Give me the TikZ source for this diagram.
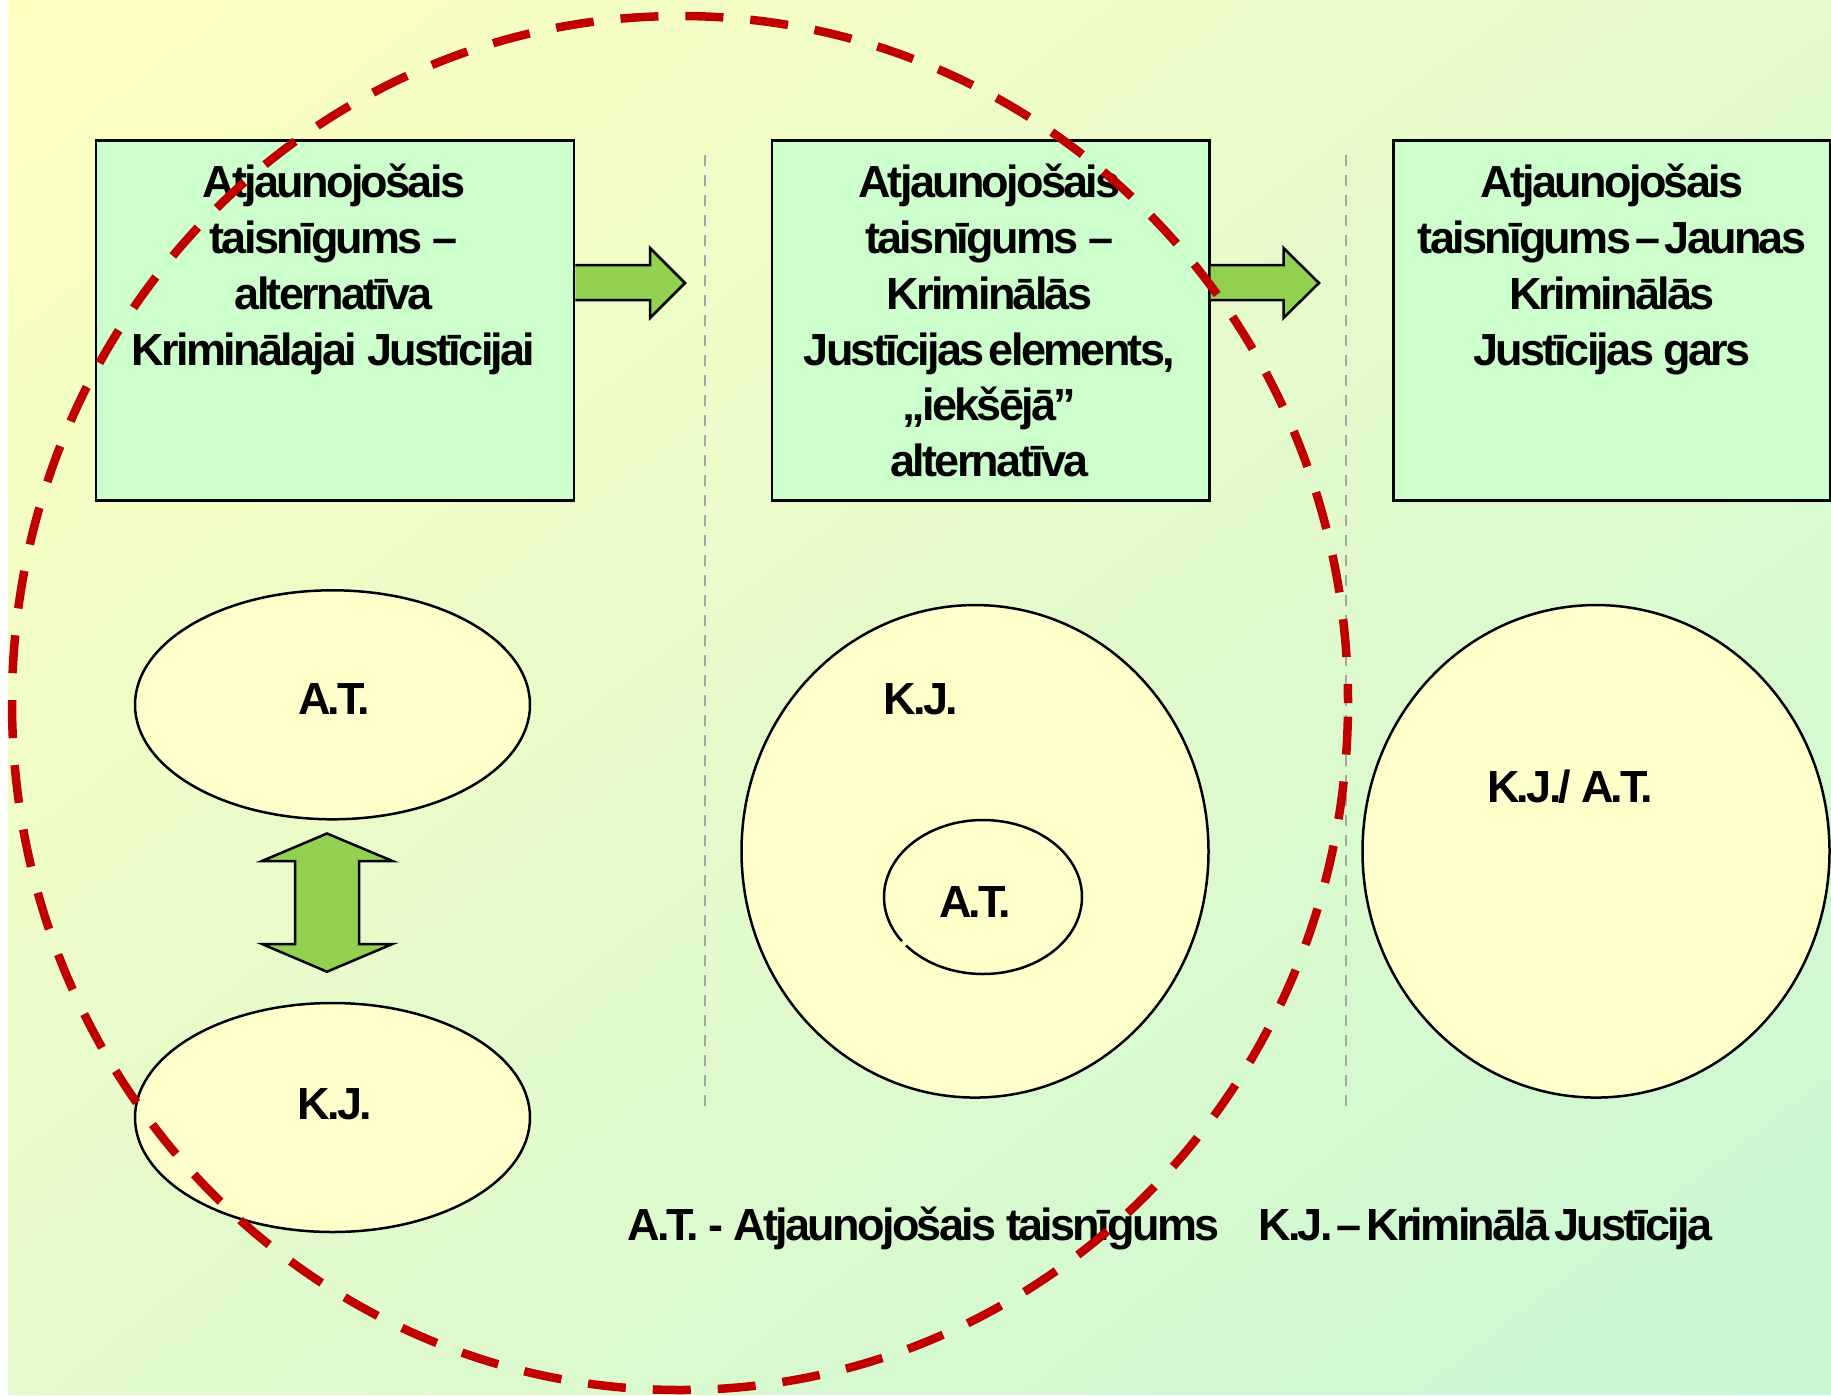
\documentclass[tikz,border=0pt]{standalone}
\usepackage{fontspec}
\setmainfont{Liberation Sans}[LetterSpace=-6.0]
\usetikzlibrary{shapes.geometric,shadings,calc}
\definecolor{boxg}{HTML}{CCFFCC}
\definecolor{ell}{HTML}{FFFFCC}
\definecolor{arrg}{HTML}{92D050}
\definecolor{redd}{HTML}{C00000}
\definecolor{bgA}{HTML}{FFFFC0}
\definecolor{bgB}{HTML}{C8F7D6}
\definecolor{bgM}{HTML}{E4FBCB}
\definecolor{gry}{HTML}{A6A6A6}
\newcommand{\tightsp}{\spaceskip=\dimexpr\fontdimen2\font-5.5pt\relax}
\begin{document}
\begin{tikzpicture}[x=1pt,y=1pt,
  lbl/.style={font=\fontsize{45}{55.8}\selectfont\bfseries, inner sep=0pt},
  boxtxt/.style={lbl, align=center, anchor=north},
  panel/.style={draw=black, line width=2.5pt, fill=boxg, inner sep=0pt, anchor=north west},
  oval/.style={ellipse, draw=black, line width=2.5pt, fill=ell, inner sep=0pt},
  blockarrow/.style={draw=black, line width=2.5pt, fill=arrg, line join=miter},
  sep/.style={draw=gry, line width=2.5pt, dash pattern=on 11pt off 9pt},
  ring/.style={draw=redd, line width=8.5pt, dash pattern=on 38pt off 27pt, dash phase=19pt}
]
\useasboundingbox (0,0) rectangle (1831,-1395);
% background
\shade[upper left=bgA, upper right=bgM, lower left=bgM, lower right=bgB] (8,0) rectangle (1831,-1394);

% separators
\coordinate (s1a) at (705,-155); \coordinate (s1b) at (705,-1112);
\coordinate (s2a) at (1346,-155); \coordinate (s2b) at (1346,-1112);
\draw[sep] (s1a) -- (s1b);
\draw[sep] (s2a) -- (s2b);

% boxes
\node[panel, minimum width=478.2pt, minimum height=360pt] (b1) at (94.6,-139.3) {};
\node[panel, minimum width=437.3pt, minimum height=360pt] (b2) at (770.7,-139.3) {};
\node[panel, minimum width=437.3pt, minimum height=360pt] (b3) at (1392,-139.3) {};

\node[boxtxt] (t1) at (333.7,-157.5) {\rule{0pt}{40pt}Atjaunojošais\\taisnīgums –\\alternatīva\\Kriminālajai Justīcijai};
\node[boxtxt] (t2) at (989.4,-157.5) {\rule{0pt}{40pt}Atjaunojošais\\taisnīgums –\\Kriminālās\\{\tightsp Justīcijas elements,}\\„iekšējā”\\alternatīva};
\node[boxtxt] (t3) at (1612,-157.5) {\rule{0pt}{40pt}Atjaunojošais\\{\tightsp taisnīgums – Jaunas}\\Kriminālās\\Justīcijas gars};

% arrows between boxes
\draw[blockarrow] (b1.east |- 0,-300) -- (650,-300) -- (650,-318) -- (685,-283) -- (650,-248) -- (650,-265) -- (b1.east |- 0,-265);
\draw[blockarrow] (b2.east |- 0,-300) -- (1283.5,-300) -- (1283.5,-318) -- (1319,-283) -- (1283.5,-248) -- (1283.5,-265) -- (b2.east |- 0,-265);

% first column ovals
\node[oval, minimum width=395pt, minimum height=229pt] (e1) at (332.5,-704.8) {};
\node[oval, minimum width=395pt, minimum height=229pt] (e2) at (332.5,-1117.5) {};
\node[lbl, anchor=base] (la1) at (334,-714) {A.T.};
\node[lbl, anchor=base] (lk1) at (335,-1119) {K.J.};
\draw[blockarrow] (327,-833.5) -- (392.5,-861) -- (359,-861) -- (359,-944) -- (392.5,-944) -- (327,-971.7) -- (262,-944) -- (295,-944) -- (295,-861) -- (262,-861) -- cycle;

% second column
\node[oval, minimum width=467pt, minimum height=492.5pt] (c2) at (975,-851.3) {};
\node[ellipse, fill=ell, inner sep=0pt, minimum width=198pt, minimum height=154pt] (a2) at (983,-897) {};
\draw[line width=2.5pt] ($(a2.center)+(219:99 and 77)$) arc [start angle=219, end angle=575, x radius=99, y radius=77];
\node[lbl, anchor=base] (lk2) at (921,-714) {K.J.};
\node[lbl, anchor=base] (la2) at (975,-917) {A.T.};

% third column
\node[oval, minimum width=467pt, minimum height=492.5pt] (c3) at (1596,-851.3) {};
\node[lbl, anchor=base] (lk3) at (1570,-802) {K.J./ A.T.};

% legend
\node[lbl, anchor=base west] (leg1) at (627,-1240) {A.T. - Atjaunojošais taisnīgums};
\node[lbl, anchor=base west] (leg2) at (1258,-1240) {\tightsp K.J. – Kriminālā Justīcija};

% red dashed ring
\draw[ring] (680,-703) ellipse [x radius=668, y radius=687];
\end{tikzpicture}
\end{document}
